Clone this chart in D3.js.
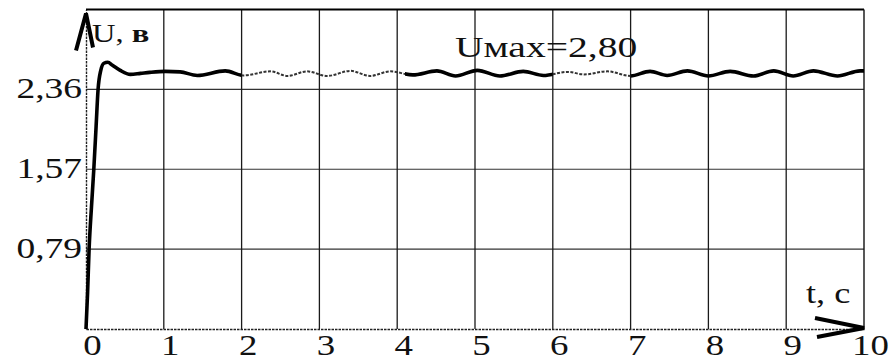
<!DOCTYPE html>
<html>
<head>
<meta charset="utf-8">
<script src="https://cdn.jsdelivr.net/npm/d3@7"></script>
<style>
  html, body { margin: 0; padding: 0; background: #fff; }
  svg { display: block; }
  text { font-family: "Liberation Serif", "Times New Roman", serif; fill: #111; }
</style>
</head>
<body>
<svg id="chart" width="893" height="361"></svg>
<script>
// Time axis (s) and voltage axis (V)
const timeTicks = [0, 1, 2, 3, 4, 5, 6, 7, 8, 9, 10];
const timeLabels = ["0", "1", "2", "3", "4", "5", "6", "7", "8", "9", "10"];
const voltTicks = [0.7875, 1.575, 2.3625];
const voltLabels = ["0,79", "1,57", "2,36"];
const voltTop = 3.15;

// Transient response U(t): fast rise, small overshoot, then steady ripple
const curveT = [0, 0.02, 0.04, 0.07, 0.10, 0.13, 0.155, 0.19, 0.23, 0.28, 0.34, 0.44, 0.57, 0.70, 0.82,
  1.02, 1.21, 1.43, 1.79, 2.02, 2.37, 2.59, 2.84, 3.10, 3.40, 3.65, 3.91, 4.20, 4.51, 4.75, 5.03,
  5.32, 5.62, 5.88, 6.19, 6.40, 6.70, 7.00, 7.25, 7.47, 7.73, 8.00, 8.28, 8.58, 8.84, 9.09, 9.35,
  9.66, 9.95, 10.0];
const curveU = [0, 0.35, 0.79, 1.20, 1.57, 2.00, 2.36, 2.55, 2.62, 2.63, 2.60, 2.55, 2.51, 2.52, 2.53,
  2.54, 2.535, 2.50, 2.545, 2.50, 2.54, 2.495, 2.54, 2.495, 2.545, 2.495, 2.54, 2.505, 2.545, 2.495, 2.55,
  2.495, 2.54, 2.50, 2.535, 2.51, 2.54, 2.495, 2.54, 2.50, 2.545, 2.495, 2.54, 2.495, 2.545, 2.495, 2.545,
  2.495, 2.545, 2.545];

const maxLabel = "Uмах=2,80";

// Stretches of the trace that were recorded faintly
const faintSpans = [[2.0, 4.1], [6.0, 7.0]];

const svg = d3.select("#chart");
const plotL = 86, plotR = 864, plotT = 9.5, plotB = 329;
const stretch = 1.25;

const x = d3.scaleLinear().domain([0, 10]).range([plotL, plotR]);
const y = d3.scaleLinear().domain([0, voltTop]).range([plotB, plotT]);

// Grid: horizontal lines at the voltage ticks, vertical at each second
svg.append("g")
  .selectAll("line")
  .data(voltTicks)
  .join("line")
  .attr("x1", plotL).attr("x2", plotR)
  .attr("y1", d => y(d)).attr("y2", d => y(d))
  .attr("stroke", "#333").attr("stroke-width", 1.1);

svg.append("g")
  .selectAll("line")
  .data(timeTicks.filter(t => t > 0 && t < 10))
  .join("line")
  .attr("x1", d => x(d)).attr("x2", d => x(d))
  .attr("y1", plotT).attr("y2", plotB)
  .attr("stroke", "#1a1a1a").attr("stroke-width", 1.3);

// Frame: top and right borders
svg.append("line").attr("x1", plotL).attr("x2", plotR).attr("y1", plotT).attr("y2", plotT)
  .attr("stroke", "#000").attr("stroke-width", 2);
svg.append("line").attr("x1", plotR).attr("x2", plotR).attr("y1", plotT).attr("y2", plotB)
  .attr("stroke", "#111").attr("stroke-width", 1.4);

// Axes
const xAxis = svg.append("g")
  .attr("transform", `translate(0,${plotB})`)
  .call(d3.axisBottom(x).tickValues(timeTicks).tickSize(0)
    .tickFormat((d, i) => timeLabels[i]));
xAxis.select(".domain").attr("stroke", "#222").attr("stroke-width", 1.6)
  .attr("stroke-dasharray", "2.5,1");
xAxis.selectAll(".tick text")
  .attr("y", 0).attr("dy", null)
  .attr("text-anchor", "middle")
  .attr("transform", `translate(6,26) scale(${stretch},1)`)
  .style("font-size", "29.5px")
  .style("font-family", "'Liberation Serif', serif")
  .attr("fill", "#111");

const yAxis = svg.append("g")
  .attr("transform", `translate(${plotL},0)`)
  .call(d3.axisLeft(y).tickValues(voltTicks).tickSize(0)
    .tickFormat((d, i) => voltLabels[i]));
yAxis.select(".domain").attr("stroke", "#222").attr("stroke-width", 1.4)
  .attr("stroke-dasharray", "2.5,1");
yAxis.selectAll(".tick text")
  .attr("x", 0).attr("dy", null)
  .attr("text-anchor", "end")
  .attr("transform", `translate(-4,8) scale(${stretch},1)`)
  .style("font-size", "30px")
  .style("font-family", "'Liberation Serif', serif")
  .attr("fill", "#111");

// Axis arrows
svg.append("path")
  .attr("d", `M${plotL - 10},${plotT + 41} L${plotL},${plotT + 4} L${plotL + 7},${plotT + 38}`)
  .attr("fill", "none").attr("stroke", "#000").attr("stroke-width", 4)
  .attr("stroke-linejoin", "miter");
svg.append("path")
  .attr("d", `M${plotR - 49},${plotB - 11} L${plotR},${plotB - 1} L${plotR - 47},${plotB + 8}`)
  .attr("fill", "none").attr("stroke", "#000").attr("stroke-width", 4)
  .attr("stroke-linejoin", "miter");

// Axis titles
const yTitle = svg.append("text")
  .attr("transform", `translate(92,42) scale(${stretch},1)`)
  .style("font-size", "26px");
yTitle.append("tspan").text("U, ");
yTitle.append("tspan").attr("font-weight", "bold").text("в");

svg.append("text")
  .attr("transform", `translate(806,303) scale(${stretch},1)`)
  .style("font-size", "29px")
  .text("t, c");

// Trace
const pts = curveT.map((t, i) => [t, curveU[i]]);
const line = d3.line().x(d => x(d[0])).y(d => y(d[1])).curve(d3.curveMonotoneX);

const defs = svg.append("defs");
// Bold parts = everything outside the faint spans
const boldSpans = [];
let prev = 0;
faintSpans.forEach(([a, b]) => { boldSpans.push([prev, a]); prev = b; });
boldSpans.push([prev, 10]);

const clipBold = defs.append("clipPath").attr("id", "clip-bold");
boldSpans.forEach(([a, b]) => {
  clipBold.append("rect").attr("x", x(a) - (a === 0 ? 4 : 0)).attr("y", 0)
    .attr("width", x(b) - x(a) + (b === 10 ? 4 : 0) + (a === 0 ? 4 : 0)).attr("height", 361);
});
const clipFaint = defs.append("clipPath").attr("id", "clip-faint");
faintSpans.forEach(([a, b]) => {
  clipFaint.append("rect").attr("x", x(a)).attr("y", 0)
    .attr("width", x(b) - x(a)).attr("height", 361);
});

svg.append("path")
  .datum(pts)
  .attr("d", line)
  .attr("clip-path", "url(#clip-faint)")
  .attr("fill", "none")
  .attr("stroke", "#333")
  .attr("stroke-width", 2)
  .attr("stroke-dasharray", "3,1.5");

svg.append("path")
  .datum(pts)
  .attr("d", line)
  .attr("clip-path", "url(#clip-bold)")
  .attr("fill", "none")
  .attr("stroke", "#000")
  .attr("stroke-width", 3.6)
  .attr("stroke-linejoin", "round");

// Peak annotation
svg.append("text")
  .attr("transform", `translate(455,57) scale(1.32,1)`)
  .style("font-size", "30px")
  .text(maxLabel);
</script>
</body>
</html>
